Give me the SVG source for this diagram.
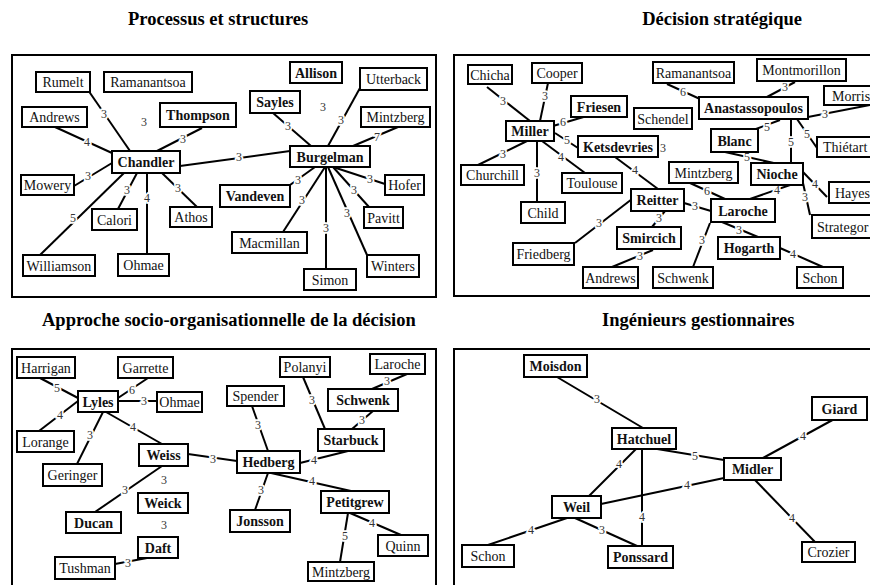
<svg xmlns="http://www.w3.org/2000/svg" width="870" height="585" viewBox="0 0 870 585">
  <style>
    .title { font-family: "Liberation Serif", "Times New Roman", serif; font-size: 18.5px; font-weight: bold; fill: #000; }
    .frame { fill: none; stroke: #000; stroke-width: 2; }
    .node rect { fill: #fff; stroke: #000; stroke-width: 2; }
    .node text { font-family: "Liberation Serif", "Times New Roman", serif; font-size: 14px; fill: #111; text-anchor: middle; }
    .node.b text { font-weight: bold; }
    .node text.l { text-anchor: start; }
    .edges line { stroke: #000; stroke-width: 2; }
    #weights { opacity: 0.99; }
    .w { font-family: "Liberation Serif", "Times New Roman", serif; font-size: 12px; fill: #333; text-anchor: middle; dominant-baseline: central; stroke: #fff; stroke-width: 3.5; paint-order: stroke; }
  </style>

  <!-- panel titles -->
  <text class="title" x="128" y="25">Processus et structures</text>
  <text class="title" x="802" y="25" text-anchor="end">Décision stratégique</text>
  <text class="title" x="42" y="326">Approche socio-organisationnelle de la décision</text>
  <text class="title" x="602" y="326">Ingénieurs gestionnaires</text>

  <!-- panel frames -->
  <rect class="frame" x="12" y="55" width="424" height="242"/>
  <rect class="frame" x="454" y="55" width="430" height="241"/>
  <rect class="frame" x="12" y="349" width="424" height="250"/>
  <rect class="frame" x="454" y="349" width="430" height="250"/>

  <!-- connectors -->
  <g id="connectors" class="edges">
    <!-- Processus et structures -->
    <line x1="88" y1="90" x2="130" y2="151"/>
    <line x1="55" y1="127" x2="112" y2="153"/>
    <line x1="202" y1="128" x2="157" y2="151"/>
    <line x1="74" y1="186" x2="112" y2="163"/>
    <line x1="137" y1="173" x2="118" y2="209"/>
    <line x1="147" y1="173" x2="147" y2="254"/>
    <line x1="162" y1="173" x2="197" y2="207"/>
    <line x1="124" y1="173" x2="40" y2="255"/>
    <line x1="180" y1="166" x2="290" y2="151"/>
    <line x1="273" y1="113" x2="311" y2="146"/>
    <line x1="360" y1="88" x2="328" y2="146"/>
    <line x1="398" y1="127" x2="353" y2="146"/>
    <line x1="333" y1="167" x2="385" y2="184"/>
    <line x1="333" y1="167" x2="369" y2="207"/>
    <line x1="328" y1="167" x2="367" y2="255"/>
    <line x1="326" y1="167" x2="326" y2="269"/>
    <line x1="325" y1="167" x2="283" y2="232"/>
    <line x1="315" y1="167" x2="290" y2="185"/>
    <!-- Décision stratégique -->
    <line x1="487" y1="87" x2="530" y2="121"/>
    <line x1="548" y1="83" x2="540" y2="121"/>
    <line x1="587" y1="116" x2="553" y2="126"/>
    <line x1="555" y1="133" x2="578" y2="148"/>
    <line x1="542" y1="141" x2="585" y2="173"/>
    <line x1="527" y1="141" x2="478" y2="165"/>
    <line x1="537" y1="141" x2="537" y2="202"/>
    <line x1="615" y1="157" x2="658" y2="189"/>
    <line x1="575" y1="243" x2="632" y2="199"/>
    <line x1="665" y1="211" x2="652" y2="227"/>
    <line x1="653" y1="250" x2="612" y2="267"/>
    <line x1="667" y1="84" x2="700" y2="99"/>
    <line x1="795" y1="82" x2="767" y2="97"/>
    <line x1="808" y1="117" x2="870" y2="105"/>
    <line x1="780" y1="120" x2="756" y2="129"/>
    <line x1="791" y1="119" x2="791" y2="163"/>
    <line x1="797" y1="119" x2="817" y2="148"/>
    <line x1="725" y1="152" x2="778" y2="164"/>
    <line x1="690" y1="183" x2="725" y2="199"/>
    <line x1="793" y1="184" x2="750" y2="199"/>
    <line x1="803" y1="172" x2="827" y2="197"/>
    <line x1="803" y1="183" x2="810" y2="215"/>
    <line x1="684" y1="203" x2="711" y2="211"/>
    <line x1="722" y1="222" x2="758" y2="237"/>
    <line x1="710" y1="223" x2="693" y2="267"/>
    <line x1="780" y1="248" x2="823" y2="267"/>
    <!-- Approche socio-organisationnelle -->
    <line x1="40" y1="378" x2="78" y2="398"/>
    <line x1="148" y1="378" x2="118" y2="398"/>
    <line x1="118" y1="401" x2="157" y2="401"/>
    <line x1="39" y1="431" x2="78" y2="401"/>
    <line x1="103" y1="412" x2="77" y2="464"/>
    <line x1="106" y1="412" x2="162" y2="444"/>
    <line x1="188" y1="454" x2="237" y2="461"/>
    <line x1="162" y1="466" x2="95" y2="512"/>
    <line x1="115" y1="564" x2="147" y2="558"/>
    <line x1="407" y1="374" x2="372" y2="389"/>
    <line x1="303" y1="377" x2="325" y2="429"/>
    <line x1="373" y1="411" x2="352" y2="429"/>
    <line x1="252" y1="406" x2="268" y2="451"/>
    <line x1="348" y1="451" x2="300" y2="463"/>
    <line x1="268" y1="473" x2="255" y2="510"/>
    <line x1="271" y1="473" x2="351" y2="491"/>
    <line x1="350" y1="513" x2="401" y2="535"/>
    <line x1="348" y1="513" x2="340" y2="562"/>
    <!-- Ingénieurs gestionnaires -->
    <line x1="557" y1="377" x2="643" y2="428"/>
    <line x1="638" y1="447" x2="587" y2="498"/>
    <line x1="642" y1="449" x2="642" y2="546"/>
    <line x1="645" y1="447" x2="724" y2="460"/>
    <line x1="601" y1="504" x2="724" y2="478"/>
    <line x1="567" y1="518" x2="488" y2="545"/>
    <line x1="575" y1="518" x2="637" y2="546"/>
    <line x1="763" y1="458" x2="838" y2="417"/>
    <line x1="755" y1="480" x2="815" y2="542"/>
  </g>

  <!-- connector weights -->
  <g id="weights">
    <text class="w" x="104" y="114">3</text>
    <text class="w" x="87" y="142">4</text>
    <text class="w" x="183" y="139">3</text>
    <text class="w" x="88" y="176">3</text>
    <text class="w" x="127" y="190">3</text>
    <text class="w" x="147" y="198">4</text>
    <text class="w" x="178" y="188">3</text>
    <text class="w" x="73" y="218">5</text>
    <text class="w" x="239" y="157">3</text>
    <text class="w" x="288" y="126">3</text>
    <text class="w" x="341" y="120">3</text>
    <text class="w" x="377" y="137">7</text>
    <text class="w" x="370" y="179">3</text>
    <text class="w" x="354" y="190">3</text>
    <text class="w" x="347" y="213">3</text>
    <text class="w" x="326" y="228">3</text>
    <text class="w" x="302" y="200">3</text>
    <text class="w" x="298" y="180">3</text>
    <text class="w" x="144" y="122">3</text>
    <text class="w" x="323" y="107">3</text>

    <text class="w" x="503" y="101">3</text>
    <text class="w" x="545" y="96">3</text>
    <text class="w" x="563" y="122">6</text>
    <text class="w" x="567" y="140">5</text>
    <text class="w" x="561" y="157">4</text>
    <text class="w" x="503" y="154">3</text>
    <text class="w" x="537" y="173">3</text>
    <text class="w" x="635" y="170">4</text>
    <text class="w" x="599" y="223">3</text>
    <text class="w" x="659" y="218">3</text>
    <text class="w" x="640" y="256">3</text>
    <text class="w" x="683" y="92">6</text>
    <text class="w" x="785" y="87">3</text>
    <text class="w" x="825" y="114">3</text>
    <text class="w" x="767" y="127">5</text>
    <text class="w" x="791" y="142">5</text>
    <text class="w" x="807" y="134">5</text>
    <text class="w" x="747" y="157">5</text>
    <text class="w" x="707" y="191">6</text>
    <text class="w" x="777" y="190">4</text>
    <text class="w" x="815" y="184">4</text>
    <text class="w" x="805" y="197">3</text>
    <text class="w" x="695" y="206">3</text>
    <text class="w" x="739" y="230">3</text>
    <text class="w" x="702" y="240">3</text>
    <text class="w" x="793" y="254">4</text>
    <text class="w" x="663" y="148">3</text>

    <text class="w" x="57" y="388">5</text>
    <text class="w" x="132" y="390">6</text>
    <text class="w" x="144" y="401">3</text>
    <text class="w" x="60" y="415">4</text>
    <text class="w" x="90" y="435">3</text>
    <text class="w" x="133" y="427">4</text>
    <text class="w" x="213" y="459">3</text>
    <text class="w" x="125" y="490">3</text>
    <text class="w" x="128" y="563">3</text>
    <text class="w" x="387" y="381">3</text>
    <text class="w" x="312" y="400">3</text>
    <text class="w" x="362" y="420">3</text>
    <text class="w" x="258" y="425">3</text>
    <text class="w" x="314" y="460">4</text>
    <text class="w" x="261" y="490">3</text>
    <text class="w" x="312" y="481">4</text>
    <text class="w" x="372" y="523">4</text>
    <text class="w" x="345" y="536">5</text>
    <text class="w" x="164" y="480">3</text>
    <text class="w" x="164" y="525">3</text>

    <text class="w" x="597" y="399">3</text>
    <text class="w" x="619" y="464">4</text>
    <text class="w" x="642" y="517">4</text>
    <text class="w" x="695" y="456">5</text>
    <text class="w" x="687" y="485">4</text>
    <text class="w" x="531" y="530">4</text>
    <text class="w" x="602" y="530">3</text>
    <text class="w" x="803" y="436">4</text>
    <text class="w" x="792" y="518">4</text>
  </g>

  <!-- nodes: Processus et structures -->
  <g id="p1-rumelt" class="node"><rect x="36" y="72" width="54" height="20"/><text x="63" y="87">Rumelt</text></g>
  <g id="p1-ramanantsoa" class="node"><rect x="104" y="72" width="88" height="20"/><text x="148" y="87">Ramanantsoa</text></g>
  <g id="p1-andrews" class="node"><rect x="22" y="107" width="65" height="20"/><text x="54.5" y="122">Andrews</text></g>
  <g id="p1-thompson" class="node b"><rect x="160" y="103" width="76" height="24"/><text x="198" y="120">Thompson</text></g>
  <g id="p1-chandler" class="node b"><rect x="112" y="151" width="68" height="22"/><text x="146" y="167">Chandler</text></g>
  <g id="p1-mowery" class="node"><rect x="21" y="175" width="53" height="20"/><text x="47.5" y="190">Mowery</text></g>
  <g id="p1-calori" class="node"><rect x="92" y="209" width="45" height="21"/><text x="114.5" y="224.5">Calori</text></g>
  <g id="p1-athos" class="node"><rect x="170" y="207" width="42" height="20"/><text x="191" y="222">Athos</text></g>
  <g id="p1-williamson" class="node"><rect x="23" y="255" width="72" height="21"/><text x="59" y="270.5">Williamson</text></g>
  <g id="p1-ohmae" class="node"><rect x="118" y="254" width="51" height="22"/><text x="143.5" y="270">Ohmae</text></g>
  <g id="p1-allison" class="node b"><rect x="290" y="62" width="52" height="21"/><text x="316" y="77.5">Allison</text></g>
  <g id="p1-utterback" class="node"><rect x="360" y="68" width="67" height="22"/><text x="393.5" y="84">Utterback</text></g>
  <g id="p1-sayles" class="node b"><rect x="250" y="91" width="50" height="22"/><text x="275" y="107">Sayles</text></g>
  <g id="p1-mintzberg" class="node"><rect x="361" y="107" width="69" height="20"/><text x="395.5" y="122">Mintzberg</text></g>
  <g id="p1-burgelman" class="node b"><rect x="290" y="146" width="80" height="21"/><text x="330" y="161.5">Burgelman</text></g>
  <g id="p1-vandeven" class="node b"><rect x="220" y="185" width="70" height="22"/><text x="255" y="201">Vandeven</text></g>
  <g id="p1-hofer" class="node"><rect x="385" y="175" width="39" height="20"/><text x="404.5" y="190">Hofer</text></g>
  <g id="p1-pavitt" class="node"><rect x="364" y="207" width="39" height="21"/><text x="383.5" y="222.5">Pavitt</text></g>
  <g id="p1-macmillan" class="node"><rect x="232" y="232" width="75" height="21"/><text x="269.5" y="247.5">Macmillan</text></g>
  <g id="p1-winters" class="node"><rect x="367" y="255" width="52" height="22"/><text x="393" y="271">Winters</text></g>
  <g id="p1-simon" class="node"><rect x="304" y="269" width="52" height="21"/><text x="330" y="284.5">Simon</text></g>

  <!-- nodes: Décision stratégique -->
  <g id="p2-chicha" class="node"><rect x="468" y="65" width="44" height="19"/><text x="490" y="79.5">Chicha</text></g>
  <g id="p2-cooper" class="node"><rect x="532" y="63" width="50" height="20"/><text x="557" y="78">Cooper</text></g>
  <g id="p2-friesen" class="node b"><rect x="571" y="96" width="56" height="21"/><text x="599" y="111.5">Friesen</text></g>
  <g id="p2-schendel" class="node"><rect x="634" y="108" width="58" height="21"/><text x="663" y="123.5">Schendel</text></g>
  <g id="p2-miller" class="node b"><rect x="506" y="121" width="48" height="20"/><text x="530" y="136">Miller</text></g>
  <g id="p2-ketsdevries" class="node b"><rect x="578" y="136" width="80" height="21"/><text x="618" y="151.5">Ketsdevries</text></g>
  <g id="p2-churchill" class="node"><rect x="461" y="165" width="63" height="20"/><text x="492.5" y="180">Churchill</text></g>
  <g id="p2-toulouse" class="node"><rect x="562" y="173" width="60" height="20"/><text x="592" y="188">Toulouse</text></g>
  <g id="p2-child" class="node"><rect x="521" y="202" width="44" height="21"/><text x="543" y="217.5">Child</text></g>
  <g id="p2-reitter" class="node b"><rect x="631" y="189" width="53" height="22"/><text x="657.5" y="205">Reitter</text></g>
  <g id="p2-smircich" class="node b"><rect x="617" y="227" width="64" height="22"/><text x="649" y="243">Smircich</text></g>
  <g id="p2-friedberg" class="node"><rect x="513" y="243" width="61" height="22"/><text x="543.5" y="259">Friedberg</text></g>
  <g id="p2-andrews" class="node"><rect x="583" y="267" width="55" height="21"/><text x="610.5" y="282.5">Andrews</text></g>
  <g id="p2-ramanantsoa" class="node"><rect x="653" y="62" width="81" height="21"/><text x="693.5" y="77.5">Ramanantsoa</text></g>
  <g id="p2-montmorillon" class="node"><rect x="757" y="59" width="89" height="22"/><text x="801.5" y="75">Montmorillon</text></g>
  <g id="p2-morris" class="node"><rect x="824" y="86" width="56" height="19"/><text class="l" x="832" y="100.5">Morris</text></g>
  <g id="p2-anastassopoulos" class="node b"><rect x="699" y="97" width="109" height="22"/><text x="753.5" y="113">Anastassopoulos</text></g>
  <g id="p2-blanc" class="node b"><rect x="711" y="129" width="47" height="23"/><text x="734.5" y="145.5">Blanc</text></g>
  <g id="p2-thietart" class="node"><rect x="817" y="137" width="58" height="20"/><text class="l" x="823" y="152">Thiétart</text></g>
  <g id="p2-mintzberg" class="node"><rect x="669" y="162" width="69" height="21"/><text x="703.5" y="177.5">Mintzberg</text></g>
  <g id="p2-nioche" class="node b"><rect x="751" y="163" width="52" height="22"/><text x="777" y="179">Nioche</text></g>
  <g id="p2-hayes" class="node"><rect x="829" y="182" width="50" height="21"/><text class="l" x="835" y="197.5">Hayes</text></g>
  <g id="p2-laroche" class="node b"><rect x="711" y="199" width="64" height="23"/><text x="743" y="215.5">Laroche</text></g>
  <g id="p2-strategor" class="node"><rect x="812" y="215" width="63" height="23"/><text class="l" x="817" y="231.5">Strategor</text></g>
  <g id="p2-hogarth" class="node b"><rect x="718" y="237" width="62" height="22"/><text x="749" y="253">Hogarth</text></g>
  <g id="p2-schwenk" class="node"><rect x="653" y="267" width="60" height="21"/><text x="683" y="282.5">Schwenk</text></g>
  <g id="p2-schon" class="node"><rect x="797" y="267" width="46" height="21"/><text x="820" y="282.5">Schon</text></g>

  <!-- nodes: Approche socio-organisationnelle de la décision -->
  <g id="p3-harrigan" class="node"><rect x="17" y="357" width="58" height="21"/><text x="46" y="372.5">Harrigan</text></g>
  <g id="p3-garrette" class="node"><rect x="118" y="357" width="55" height="21"/><text x="145.5" y="372.5">Garrette</text></g>
  <g id="p3-lyles" class="node b"><rect x="78" y="391" width="40" height="21"/><text x="98" y="406.5">Lyles</text></g>
  <g id="p3-ohmae" class="node"><rect x="157" y="392" width="45" height="20"/><text x="179.5" y="407">Ohmae</text></g>
  <g id="p3-lorange" class="node"><rect x="17" y="431" width="57" height="21"/><text x="45.5" y="446.5">Lorange</text></g>
  <g id="p3-weiss" class="node b"><rect x="139" y="444" width="49" height="22"/><text x="163.5" y="460">Weiss</text></g>
  <g id="p3-geringer" class="node"><rect x="43" y="464" width="59" height="22"/><text x="72.5" y="480">Geringer</text></g>
  <g id="p3-weick" class="node b"><rect x="138" y="493" width="50" height="20"/><text x="163" y="508">Weick</text></g>
  <g id="p3-ducan" class="node b"><rect x="66" y="512" width="55" height="21"/><text x="93.5" y="527.5">Ducan</text></g>
  <g id="p3-daft" class="node b"><rect x="138" y="537" width="40" height="21"/><text x="158" y="552.5">Daft</text></g>
  <g id="p3-tushman" class="node"><rect x="55" y="557" width="60" height="22"/><text x="85" y="573">Tushman</text></g>
  <g id="p3-polanyi" class="node"><rect x="280" y="357" width="50" height="20"/><text x="305" y="372">Polanyi</text></g>
  <g id="p3-laroche" class="node"><rect x="370" y="354" width="55" height="20"/><text x="397.5" y="369">Laroche</text></g>
  <g id="p3-spender" class="node"><rect x="227" y="386" width="57" height="20"/><text x="255.5" y="401">Spender</text></g>
  <g id="p3-schwenk" class="node b"><rect x="328" y="389" width="70" height="22"/><text x="363" y="405">Schwenk</text></g>
  <g id="p3-starbuck" class="node b"><rect x="318" y="429" width="66" height="22"/><text x="351" y="445">Starbuck</text></g>
  <g id="p3-hedberg" class="node b"><rect x="237" y="451" width="63" height="22"/><text x="268.5" y="467">Hedberg</text></g>
  <g id="p3-petitgrew" class="node b"><rect x="321" y="491" width="68" height="22"/><text x="355" y="507">Petitgrew</text></g>
  <g id="p3-jonsson" class="node b"><rect x="230" y="510" width="60" height="22"/><text x="260" y="526">Jonsson</text></g>
  <g id="p3-quinn" class="node"><rect x="378" y="535" width="50" height="21"/><text x="403" y="550.5">Quinn</text></g>
  <g id="p3-mintzberg" class="node"><rect x="308" y="562" width="66" height="19"/><text x="341" y="576.5">Mintzberg</text></g>

  <!-- nodes: Ingénieurs gestionnaires -->
  <g id="p4-moisdon" class="node b"><rect x="524" y="355" width="63" height="22"/><text x="555.5" y="371">Moisdon</text></g>
  <g id="p4-hatchuel" class="node b"><rect x="612" y="428" width="64" height="21"/><text x="644" y="443.5">Hatchuel</text></g>
  <g id="p4-weil" class="node b"><rect x="552" y="496" width="49" height="22"/><text x="576.5" y="512">Weil</text></g>
  <g id="p4-schon" class="node"><rect x="462" y="545" width="52" height="22"/><text x="488" y="561">Schon</text></g>
  <g id="p4-ponssard" class="node b"><rect x="608" y="546" width="65" height="22"/><text x="640.5" y="562">Ponssard</text></g>
  <g id="p4-giard" class="node b"><rect x="812" y="397" width="55" height="23"/><text x="839.5" y="413.5">Giard</text></g>
  <g id="p4-midler" class="node b"><rect x="724" y="458" width="57" height="22"/><text x="752.5" y="474">Midler</text></g>
  <g id="p4-crozier" class="node"><rect x="802" y="542" width="53" height="20"/><text x="828.5" y="557">Crozier</text></g>
</svg>
